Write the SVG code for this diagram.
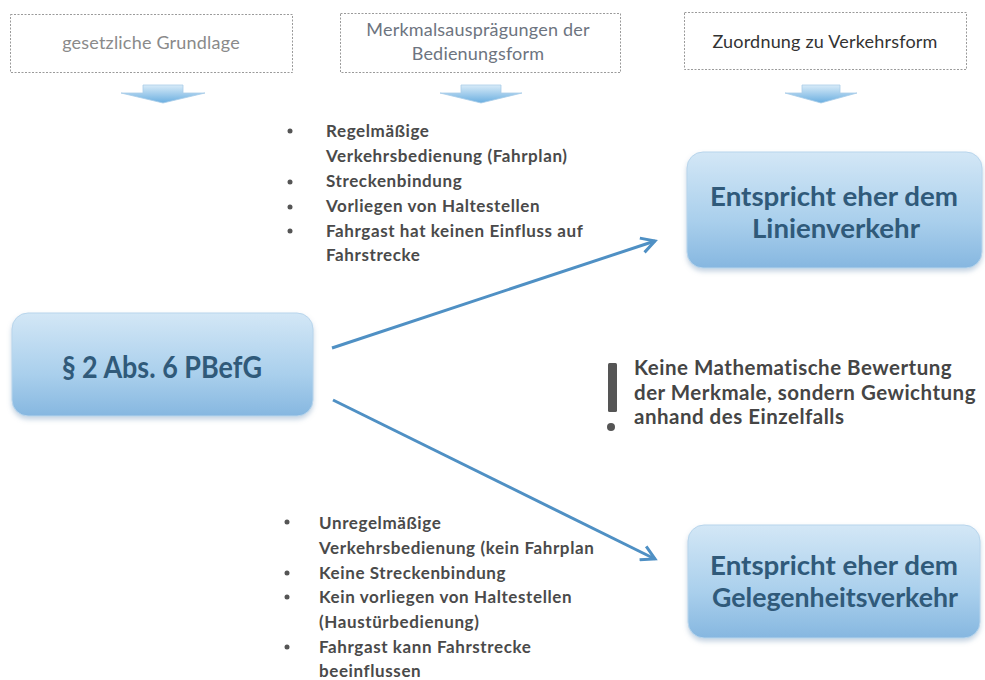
<svg xmlns="http://www.w3.org/2000/svg" width="985" height="680" viewBox="0 0 985 680">
<defs>
<linearGradient id="boxg" x1="0" y1="0" x2="0" y2="1">
<stop offset="0" stop-color="#d3e7f6"/>
<stop offset="0.6" stop-color="#a9cfec"/>
<stop offset="1" stop-color="#86b7e0"/>
</linearGradient>
<linearGradient id="arrg" x1="0" y1="0" x2="0" y2="1">
<stop offset="0" stop-color="#d8ebf8"/>
<stop offset="1" stop-color="#6aaee0"/>
</linearGradient>
<filter id="sh" x="-10%" y="-10%" width="120%" height="130%">
<feGaussianBlur in="SourceAlpha" stdDeviation="2.5"/>
<feOffset dx="0" dy="3" result="b"/>
<feFlood flood-color="#7f9fbf" flood-opacity="0.45"/>
<feComposite in2="b" operator="in"/>
<feMerge><feMergeNode/><feMergeNode in="SourceGraphic"/></feMerge>
</filter>
<marker id="ah" viewBox="0 0 12 12" refX="10" refY="6" markerWidth="6" markerHeight="6" orient="auto" markerUnits="strokeWidth">
<path d="M1,1 L10,6 L1,11" fill="none" stroke="#4f90c4" stroke-width="2"/>
</marker>
</defs>
<style>
.hdr{fill:#fff;stroke:#9a9a9a;stroke-width:1;stroke-dasharray:2 1.5}
.ht{font-family:Lato,"Liberation Sans",sans-serif;font-size:18px;letter-spacing:0.2px;text-anchor:middle}
.box{fill:url(#boxg);stroke:#b8d5ec;stroke-width:1;filter:url(#sh)}
.bt{font-family:Lato,"Liberation Sans",sans-serif;font-weight:bold;fill:#305a7a;text-anchor:middle}
.li{font-family:Lato,"Liberation Sans",sans-serif;font-weight:bold;font-size:17px;letter-spacing:0.6px;fill:#4a4a4a}
.bul{fill:#555}
.note{font-family:Lato,"Liberation Sans",sans-serif;font-weight:bold;font-size:20.5px;letter-spacing:0.5px;fill:#454545}
.conn{stroke:#4f90c4;stroke-width:3;fill:none;marker-end:url(#ah)}
.da{fill:url(#arrg);stroke:#a9cde9;stroke-width:0.8}
</style>

<g id="header1">
<rect class="hdr" x="10.5" y="14.5" width="282" height="58"/>
<text class="ht" x="151" y="49" fill="#8a8a8a">gesetzliche Grundlage</text>
<path class="da" d="M143,85 H183 V93 H205 L163,103 L121,93 H143 Z"/>
</g>

<g id="header2">
<rect class="hdr" x="340.5" y="13.5" width="280" height="59"/>
<text class="ht" x="478" y="36" fill="#6d7480">Merkmalsausprägungen der</text>
<text class="ht" x="478" y="60" fill="#6d7480">Bedienungsform</text>
<path class="da" d="M461,85 H501 V93 H522 L481,103 L440,93 H461 Z"/>
</g>

<g id="header3">
<rect class="hdr" x="684.5" y="12.5" width="282" height="57"/>
<text class="ht" x="825" y="48" fill="#333">Zuordnung zu Verkehrsform</text>
<path class="da" d="M802,85 H840 V93 H857 L821,103 L785,93 H802 Z"/>
</g>

<g id="pbefg">
<rect class="box" x="12" y="313" width="301" height="103" rx="16"/>
<text class="bt" x="162" y="378" font-size="30" textLength="200" lengthAdjust="spacingAndGlyphs">§ 2 Abs. 6 PBefG</text>
</g>

<g id="linienverkehr">
<rect class="box" x="687" y="152" width="295" height="116" rx="16"/>
<text class="bt" x="834" y="206" font-size="27" textLength="248" lengthAdjust="spacingAndGlyphs">Entspricht eher dem</text>
<text class="bt" x="836" y="238" font-size="27" textLength="168" lengthAdjust="spacingAndGlyphs">Linienverkehr</text>
</g>

<g id="gelegenheitsverkehr">
<rect class="box" x="688" y="525" width="292" height="113" rx="16"/>
<text class="bt" x="834" y="575" font-size="27" textLength="248" lengthAdjust="spacingAndGlyphs">Entspricht eher dem</text>
<text class="bt" x="835" y="607" font-size="27" textLength="246" lengthAdjust="spacingAndGlyphs">Gelegenheitsverkehr</text>
</g>

<g id="list-linien">
<circle class="bul" cx="290" cy="131" r="2.5"/>
<circle class="bul" cx="290" cy="182" r="2.5"/>
<circle class="bul" cx="290" cy="207" r="2.5"/>
<circle class="bul" cx="290" cy="231" r="2.5"/>
<text class="li" x="326" y="137">Regelmäßige</text>
<text class="li" x="326" y="162">Verkehrsbedienung (Fahrplan)</text>
<text class="li" x="326" y="187">Streckenbindung</text>
<text class="li" x="326" y="212">Vorliegen von Haltestellen</text>
<text class="li" x="326" y="237">Fahrgast hat keinen Einfluss auf</text>
<text class="li" x="326" y="261">Fahrstrecke</text>
</g>

<g id="list-gelegenheit">
<circle class="bul" cx="287" cy="522" r="2.5"/>
<circle class="bul" cx="287" cy="573" r="2.5"/>
<circle class="bul" cx="287" cy="597" r="2.5"/>
<circle class="bul" cx="287" cy="647" r="2.5"/>
<text class="li" x="319" y="529">Unregelmäßige</text>
<text class="li" x="319" y="554">Verkehrsbedienung (kein Fahrplan</text>
<text class="li" x="319" y="579">Keine Streckenbindung</text>
<text class="li" x="319" y="603">Kein vorliegen von Haltestellen</text>
<text class="li" x="319" y="628">(Haustürbedienung)</text>
<text class="li" x="319" y="653">Fahrgast kann Fahrstrecke</text>
<text class="li" x="319" y="677">beeinflussen</text>
</g>

<g id="note">
<rect x="608" y="363" width="9" height="49" rx="1.5" fill="#555"/>
<circle cx="611" cy="427" r="4" fill="#555"/>
<text class="note" x="634" y="375">Keine Mathematische Bewertung</text>
<text class="note" x="634" y="400">der Merkmale, sondern Gewichtung</text>
<text class="note" x="634" y="424">anhand des Einzelfalls</text>
</g>

<g id="connectors">
<line class="conn" x1="332" y1="348" x2="655" y2="241"/>
<line class="conn" x1="333" y1="400" x2="655" y2="559"/>
</g>
</svg>
